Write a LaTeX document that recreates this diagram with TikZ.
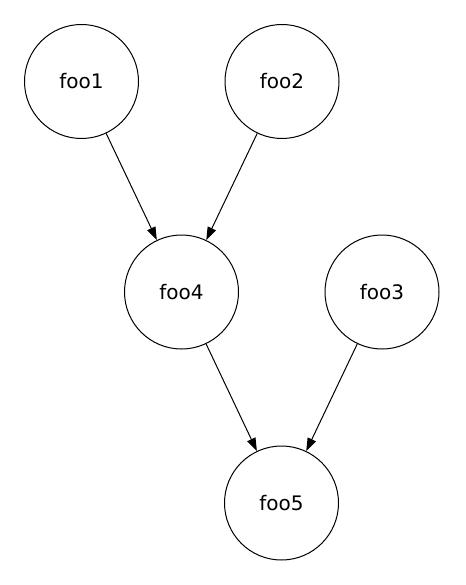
\documentclass[tikz,border=0pt]{standalone}
\usepackage{fontspec}
\setmainfont{DejaVu Sans}
\usetikzlibrary{arrows.meta}

\begin{document}
\begin{tikzpicture}[x=1pt,y=-1pt,
  foo/.style={circle,draw,line width=1pt,minimum size=114pt,inner sep=0pt,font=\fontsize{20}{24}\selectfont},
  dep/.style={-{Triangle[length=13pt,width=9pt]},line width=1pt}]
 \useasboundingbox (0,0) rectangle (465,585);
 \node[foo] (foo1) at (81.5,81.5) {foo1};
 \node[foo] (foo2) at (282,81.5) {foo2};
 \node[foo] (foo4) at (181.5,292) {foo4};
 \node[foo] (foo3) at (382,292) {foo3};
 \node[foo] (foo5) at (281.5,503) {foo5};
 \draw[dep] (foo1) -- (foo4);
 \draw[dep] (foo2) -- (foo4);
 \draw[dep] (foo4) -- (foo5);
 \draw[dep] (foo3) -- (foo5);
\end{tikzpicture}
\end{document}
